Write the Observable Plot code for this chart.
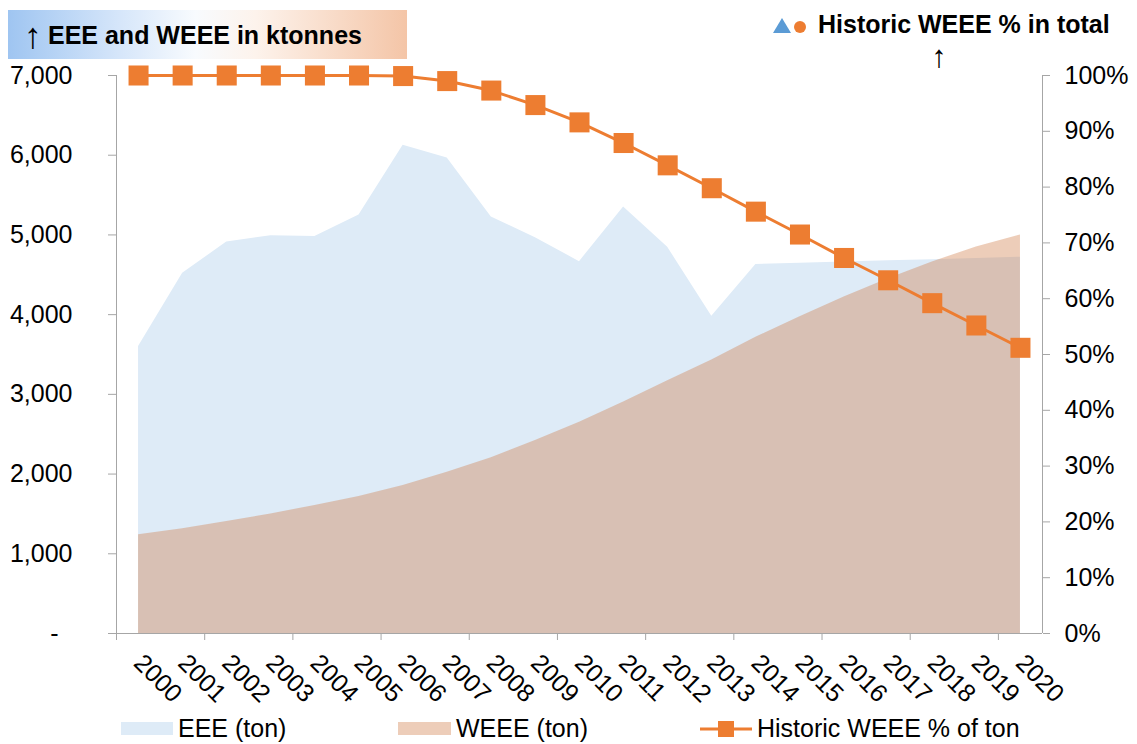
<!DOCTYPE html>
<html><head><meta charset="utf-8">
<script src="https://cdn.jsdelivr.net/npm/d3@7"></script>
<script src="https://cdn.jsdelivr.net/npm/@observablehq/plot@0.6"></script>
<style>
body{margin:0;background:#fff;font-family:"Liberation Sans",Arial,sans-serif;color:#000;}
#wrap{position:relative;width:1137px;height:744px;overflow:hidden}
#header{position:relative;height:62px}
#chart{height:645px}
#legend{position:relative;height:37px}
.abs{position:absolute;white-space:nowrap}
.t25{font-size:25px;line-height:25px}
.b25{font-size:25px;line-height:25px;font-weight:bold}
.arr{font-size:36px;line-height:22px;height:22px;font-weight:normal;width:26px;text-align:center}
.arr2{font-size:31px;line-height:22px;height:22px;font-weight:normal;width:26px;text-align:center}
</style></head><body>
<div id="wrap">
<div id="header">
 <div class="abs" style="left:8px;top:10px;width:399px;height:49px;background:linear-gradient(90deg,#9fc5f1 0%,#d6e6fa 28%,#f8fbfe 47%,#fdf3ec 62%,#f4c5a7 100%)"></div>
 <span class="abs arr" style="left:20px;top:25px">↑</span>
 <span class="abs b25" style="left:48px;top:23px">EEE and WEEE in ktonnes</span>
 <div class="abs" style="left:773px;top:18px;width:0;height:0;border-left:9px solid transparent;border-right:9px solid transparent;border-bottom:15px solid #5B9BD5"></div>
 <div class="abs" style="left:794px;top:21px;width:12px;height:12px;border-radius:50%;background:#ED7D31"></div>
 <span class="abs b25" style="left:818px;top:12px">Historic WEEE % in total</span>
 <span class="abs arr2" style="left:926px;top:46px">↑</span>
</div>
<div id="chart"></div>
<div id="legend">
 <div class="abs" style="left:121px;top:15px;width:52px;height:13px;background:#DEEBF7"></div>
 <span class="abs t25" style="left:178px;top:9px">EEE (ton)</span>
 <div class="abs" style="left:398px;top:15px;width:53px;height:13px;background:#EDCDB9"></div>
 <span class="abs t25" style="left:456px;top:9px">WEEE (ton)</span>
 <svg class="abs" style="left:698px;top:12px" width="56" height="20"><line x1="2" y1="10" x2="54" y2="10" stroke="#ED7D31" stroke-width="3"/><rect x="20" y="2" width="16" height="16" fill="#ED7D31"/></svg>
 <span class="abs t25" style="left:757px;top:9px">Historic WEEE % of ton</span>
</div>
</div>
<script>
const years = [2000,2001,2002,2003,2004,2005,2006,2007,2008,2009,2010,2011,2012,2013,2014,2015,2016,2017,2018,2019,2020];
const eee = [3600,4520,4910,4990,4980,5250,6125,5965,5225,4965,4665,5350,4845,3980,4630,4645,4660,4675,4690,4705,4720];
const weee = [1240,1313,1405,1500,1606,1719,1857,2024,2204,2420,2651,2905,3170,3430,3715,3975,4220,4450,4660,4850,5000];
const weeePct = [100,100,100,100,100,100,99.9,99.0,97.3,94.7,91.6,87.9,83.9,79.8,75.6,71.5,67.3,63.3,59.2,55.2,51.2];
const leftTicks = [0,1000,2000,3000,4000,5000,6000,7000];
const rightTicks = [0,10,20,30,40,50,60,70,80,90,100];

const table = years.map((year,i)=>({year, eee:eee[i], weee:weee[i], pct:weeePct[i]}));
const pctToLeft = 7000/100;
const x0 = d3.min(years)-0.5, x1 = d3.max(years)+0.5;
const boundaries = d3.range(x0, x1, 2);
const grey = "#a6a6a6";

const chart = Plot.plot({
  width:1137, height:645, marginTop:13, marginBottom:74, marginLeft:116, marginRight:95,
  style:{fontFamily:'"Liberation Sans", Arial, sans-serif', fontSize:"25px", color:"#000", background:"transparent", overflow:"visible"},
  x:{domain:[x0,x1], axis:null},
  y:{domain:[0,7000], axis:null},
  marks:[
    Plot.areaY(table,{x:"year", y:"eee", fill:"#DEEBF7"}),
    Plot.areaY(table,{x:"year", y:"weee", fill:"rgb(206,120,66)", fillOpacity:0.37}),
    Plot.ruleX([x0],{stroke:grey}),
    Plot.ruleX([x1],{stroke:grey}),
    Plot.ruleY([0],{stroke:grey}),
    Plot.axisY(leftTicks,{anchor:"left", tickSize:8, tickFormat:()=>"", stroke:grey, label:null}),
    Plot.axisY(leftTicks,{anchor:"left", tickSize:0, tickPadding:44, tickFormat:d=> d===0 ? "-\u00a0\u00a0" : d3.format(",")(d), label:null}),
    Plot.axisY(rightTicks.map(p=>p*pctToLeft),{anchor:"right", tickSize:7, tickFormat:()=>"", stroke:grey, label:null}),
    Plot.axisY(rightTicks.map(p=>p*pctToLeft),{anchor:"right", tickSize:0, tickPadding:22, tickFormat:d=>Math.round(d/pctToLeft)+"%", label:null}),
    Plot.axisX(boundaries,{anchor:"bottom", tickSize:7, tickFormat:()=>"", stroke:grey, label:null}),
    Plot.text(years,{x:d=>d, frameAnchor:"bottom", dy:31, dx:-6, rotate:45, textAnchor:"start", lineAnchor:"bottom", text:d=>String(d), fill:"#000"}),
    Plot.line(table,{x:"year", y:d=>d.pct*pctToLeft, stroke:"#ED7D31", strokeWidth:3}),
    Plot.dot(table,{x:"year", y:d=>d.pct*pctToLeft, symbol:"square", r:11.3, fill:"#ED7D31", stroke:null})
  ]
});
document.getElementById("chart").appendChild(chart);
</script>
</body></html>
